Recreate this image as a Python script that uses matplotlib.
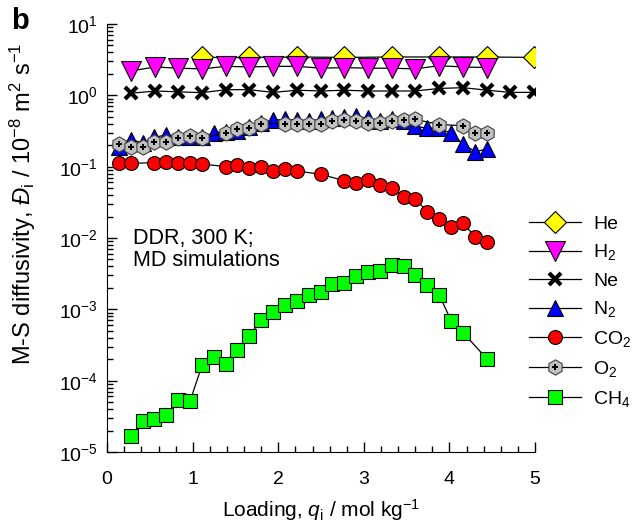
import numpy as np
import matplotlib.pyplot as plt
from matplotlib.ticker import FixedLocator, LogLocator, NullFormatter

plt.rcParams['font.family'] = ['Liberation Sans', 'DejaVu Sans']
plt.rcParams['mathtext.fontset'] = 'custom'
plt.rcParams['mathtext.rm'] = 'Liberation Sans'
plt.rcParams['mathtext.it'] = 'Liberation Sans:italic'

# ---------------- data ----------------
he_q = [1.11, 1.66, 2.22, 2.77, 3.33, 3.88, 4.44, 4.99]
he_D = [3.4, 3.4, 3.45, 3.4, 3.45, 3.45, 3.45, 3.4]

h2_q = [0.28, 0.56, 0.83, 1.11, 1.39, 1.66, 1.94, 2.22, 2.50, 2.77, 3.05, 3.33,
        3.60, 3.88, 4.16, 4.44]
h2_D = [2.2, 2.5, 2.4, 2.35, 2.55, 2.5, 2.55, 2.55, 2.4, 2.45, 2.4, 2.4,
        2.35, 2.6, 2.5, 2.45]

ne_q = [0.28, 0.56, 0.83, 1.11, 1.39, 1.66, 1.94, 2.22, 2.50, 2.77, 3.05, 3.33,
        3.60, 3.88, 4.16, 4.44, 4.71, 4.99]
ne_D = [1.07, 1.15, 1.12, 1.09, 1.2, 1.2, 1.1, 1.18, 1.15, 1.18, 1.15, 1.15,
        1.15, 1.25, 1.28, 1.18, 1.1, 1.1]

n2_q = [0.14, 0.28, 0.42, 0.55, 0.69, 0.83, 0.97, 1.11, 1.25, 1.39, 1.52, 1.66,
        1.80, 1.94, 2.08, 2.22, 2.36, 2.50, 2.63, 2.77, 2.91, 3.05, 3.19, 3.33,
        3.47, 3.60, 3.74, 3.88, 4.02, 4.16, 4.30, 4.44]
n2_D = [0.19, 0.237, 0.217, 0.258, 0.278, 0.26, 0.26, 0.258, 0.30, 0.31, 0.32, 0.363,
        0.41, 0.45, 0.46, 0.45, 0.44, 0.46, 0.477, 0.49, 0.51, 0.477, 0.44, 0.46,
        0.43, 0.37, 0.345, 0.345, 0.293, 0.208, 0.162, 0.177]

co2_q = [0.14, 0.28, 0.55, 0.69, 0.83, 0.97, 1.11, 1.39, 1.52, 1.66, 1.80, 1.94,
         2.08, 2.22, 2.50, 2.77, 2.91, 3.05, 3.19, 3.33, 3.47, 3.60, 3.74, 3.88,
         4.02, 4.16, 4.30, 4.44]
co2_D = [0.114, 0.111, 0.114, 0.116, 0.111, 0.114, 0.109, 0.100, 0.107, 0.095, 0.100, 0.088,
         0.094, 0.087, 0.078, 0.0636, 0.0596, 0.065, 0.0553, 0.0497, 0.038, 0.0356, 0.0234, 0.0183,
         0.0141, 0.0161, 0.0104, 0.0087]

o2_q = [0.14, 0.28, 0.42, 0.55, 0.69, 0.83, 0.97, 1.11, 1.39, 1.52, 1.66, 1.80,
        2.08, 2.22, 2.36, 2.50, 2.63, 2.77, 2.91, 3.05, 3.19, 3.33, 3.47, 3.60,
        3.88, 4.16, 4.30, 4.44]
o2_D = [0.21, 0.19, 0.19, 0.22, 0.225, 0.255, 0.27, 0.25, 0.30, 0.335, 0.345, 0.40,
        0.40, 0.40, 0.40, 0.40, 0.44, 0.45, 0.43, 0.41, 0.41, 0.43, 0.45, 0.46,
        0.39, 0.375, 0.30, 0.30]

ch4_q = [0.28, 0.42, 0.55, 0.69, 0.83, 0.97, 1.11, 1.25, 1.39, 1.52, 1.66, 1.80,
         1.94, 2.08, 2.22, 2.36, 2.50, 2.63, 2.77, 2.91, 3.05, 3.19, 3.33, 3.47,
         3.60, 3.74, 3.88, 4.02, 4.16, 4.44]
ch4_D = [1.67e-5, 2.75e-5, 2.87e-5, 3.27e-5, 5.36e-5, 5.24e-5, 1.66e-4, 2.17e-4, 1.69e-4, 2.69e-4, 4.23e-4, 7.08e-4,
         9.26e-4, 1.15e-3, 1.32e-3, 1.59e-3, 1.77e-3, 2.26e-3, 2.36e-3, 2.93e-3, 3.37e-3, 3.48e-3, 4.18e-3, 4.09e-3,
         3.03e-3, 2.19e-3, 1.59e-3, 6.93e-4, 4.70e-4, 2.01e-4]

# ---------------- plot ----------------
fig = plt.figure(figsize=(6.38, 5.24), dpi=100)
ax = fig.add_axes([0.168, 0.1374, 0.6706, 0.8168])

lw = 0.9
ek = dict(markeredgecolor='black', markeredgewidth=0.8)

l_he, = ax.plot(he_q, he_D, '-', color='black', lw=lw, marker='D', ms=11.5,
                markerfacecolor='#ffff00', **ek)
l_h2, = ax.plot(h2_q, h2_D, '-', color='black', lw=lw, marker='v', ms=14,
                markerfacecolor='#ff00ff', **ek)
l_ne, = ax.plot(ne_q, ne_D, '-', color='black', lw=lw, marker='x', ms=9,
                markeredgecolor='black', markeredgewidth=3)
l_n2, = ax.plot(n2_q, n2_D, '-', color='black', lw=lw, marker='^', ms=11,
                markerfacecolor='#0000ff', **ek)
l_co2, = ax.plot(co2_q, co2_D, '-', color='black', lw=lw, marker='o', ms=10,
                 markerfacecolor='#ff0000', **ek)
l_o2, = ax.plot(o2_q, o2_D, '-', color='black', lw=lw, marker='h', ms=11,
                markerfacecolor='#c0c0c0', markeredgecolor='#404040', markeredgewidth=0.8)
l_o2p, = ax.plot(o2_q, o2_D, linestyle='none', marker='P', ms=5,
                 markerfacecolor='black', markeredgecolor='black', markeredgewidth=0)
l_ch4, = ax.plot(ch4_q, ch4_D, '-', color='black', lw=lw, marker='s', ms=9.5,
                 markerfacecolor='#00ff00', **ek)

ax.set_yscale('log')
ax.set_xlim(0, 5)
ax.set_ylim(1e-5, 10)

ax.xaxis.set_major_locator(FixedLocator([0, 1, 2, 3, 4, 5]))
ax.xaxis.set_minor_locator(FixedLocator(np.arange(0, 5.01, 0.2)))
ax.yaxis.set_major_locator(LogLocator(base=10, numticks=10))
ax.yaxis.set_minor_locator(LogLocator(base=10, subs=np.arange(2, 10), numticks=10))
ax.yaxis.set_minor_formatter(NullFormatter())

ax.spines['top'].set_visible(False)
ax.spines['right'].set_visible(False)
ax.tick_params(which='both', direction='in', labelsize=14, width=1)
ax.tick_params(which='major', length=7)
ax.tick_params(which='minor', length=4)
ax.tick_params(axis='x', which='major', pad=14)
ax.tick_params(axis='y', which='major', pad=7)

ax.set_xlabel(r'Loading, $q_\mathrm{i}$ / mol kg$^{-1}$', fontsize=15, labelpad=6)
ax.set_ylabel(r'M-S diffusivity, $Đ_\mathrm{i}$ / 10$^{-8}$ m$^{2}$ s$^{-1}$',
              fontsize=17)
ax.yaxis.set_label_coords(-0.162, 0.58)

ax.text(0.3, 1.4e-2, 'DDR, 300 K;\nMD simulations', fontsize=15.5,
        linespacing=1.12, va='top')
fig.text(0.018, 0.96, 'b', fontsize=21, fontweight='bold', va='center')

ax.legend([l_he, l_h2, l_ne, l_n2, l_co2, (l_o2, l_o2p), l_ch4],
          ['He', r'H$_2$', 'Ne', r'N$_2$', r'CO$_2$', r'O$_2$', r'CH$_4$'],
          loc='upper left', bbox_to_anchor=(529 / 638, 1 - 215 / 524),
          bbox_transform=fig.transFigure, frameon=False, borderpad=0,
          borderaxespad=0, fontsize=14, handlelength=2.67, labelspacing=0.5,
          handletextpad=0.62)

fig.savefig('out.png', dpi=100)
